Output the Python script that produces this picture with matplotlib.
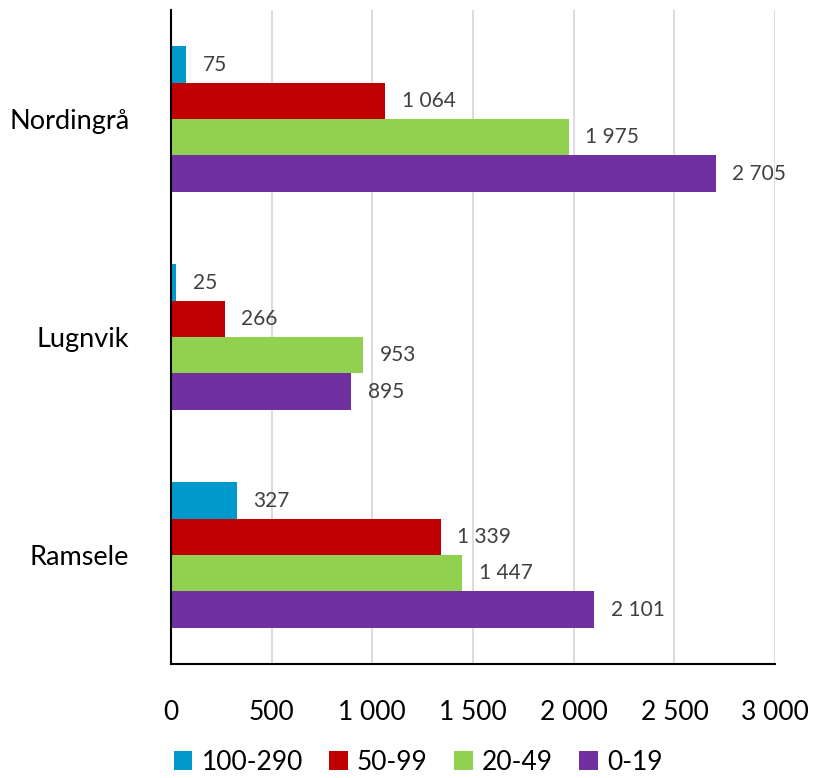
import matplotlib

matplotlib.use("Agg")
import matplotlib.pyplot as plt  # noqa: E402
import numpy as np  # noqa: E402

plt.rcParams["font.family"] = ["Lato", "DejaVu Sans"]

categories = ["Nordingrå", "Lugnvik", "Ramsele"]
series_names = ["100-290", "50-99", "20-49", "0-19"]
series_colors = ["#0099CC", "#C00000", "#92D050", "#7030A0"]
vals_100_290 = [75, 25, 327]
vals_50_99 = [1064, 266, 1339]
vals_20_49 = [1975, 953, 1447]
vals_0_19 = [2705, 895, 2101]
x_ticks = [0, 500, 1000, 1500, 2000, 2500, 3000]


def fmt(v):
    return f"{v:,}".replace(",", " ")


def main() -> None:
    series = [vals_100_290, vals_50_99, vals_20_49, vals_0_19]
    fig = plt.figure(figsize=(8.15, 7.78), dpi=100)
    ax = fig.add_axes([0.2098, 0.1465, 0.7413, 0.8405])

    y = np.arange(len(categories))
    h = 0.667 / len(series)
    for i, (name, vals, col) in enumerate(zip(series_names, series, series_colors)):
        pos = y - 0.667 / 2 + h * (i + 0.5)
        bars = ax.barh(pos, vals, height=h, color=col, label=name, zorder=3)
        for b, v in zip(bars, vals):
            ax.annotate(fmt(v), (v, b.get_y() + b.get_height() / 2), xytext=(12, 0),
                        textcoords="offset points", va="center", ha="left",
                        fontsize=15, color="#404040", zorder=4)

    ax.set_ylim(len(categories) - 0.5, -0.5)
    ax.set_xlim(0, 3000)
    ax.set_yticks(y)
    ax.set_yticklabels(categories, fontsize=19.5)
    ax.set_xticks(x_ticks)
    ax.set_xticklabels([fmt(t) for t in x_ticks], fontsize=19)
    ax.tick_params(axis="x", length=0, pad=26)
    ax.tick_params(axis="y", length=0, pad=30)
    ax.grid(axis="x", color="#D9D9D9", lw=1.3, zorder=0)
    for s in ("top", "right"):
        ax.spines[s].set_visible(False)
    for s in ("left", "bottom"):
        ax.spines[s].set_color("black")
        ax.spines[s].set_linewidth(1.5)
        ax.spines[s].set_zorder(5)

    handles, labels = ax.get_legend_handles_labels()
    fig.legend(handles, labels, loc="center", bbox_to_anchor=(0.513, 0.02),
               ncol=4, frameon=False, fontsize=19, handlelength=0.7, handleheight=0.7,
               handletextpad=0.35, columnspacing=1.0, borderpad=0)
    fig.savefig("out.png", dpi=100)
    plt.close(fig)


if __name__ == "__main__":
    main()
